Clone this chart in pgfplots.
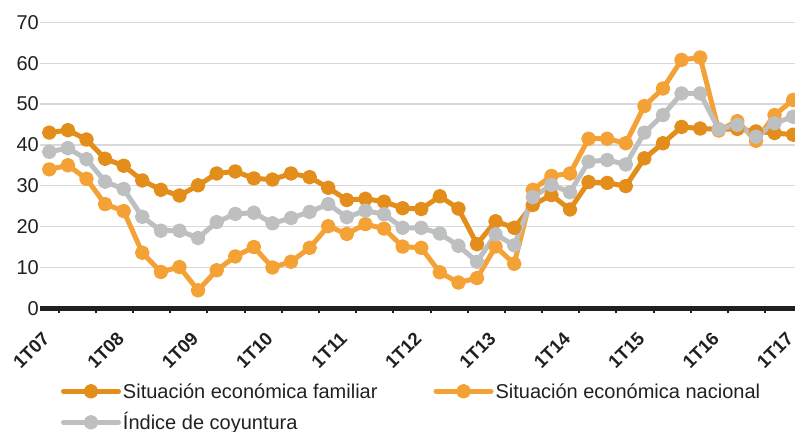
\documentclass[border=0pt]{standalone}
\usepackage{fontspec}
\setmainfont{Liberation Sans}
\usepackage{pgfplots}
\usepackage{pgfplotstable}
\pgfplotsset{compat=1.18}
\definecolor{Familiar}{HTML}{E38D1B}
\definecolor{Nacional}{HTML}{F4A236}
\definecolor{Indice}{HTML}{BEBFC1}
\definecolor{GridGray}{HTML}{D9D9D9}
\definecolor{Ink}{HTML}{231F20}

% quarter index, familiar, nacional, indice de coyuntura
\pgfplotstableread{
i  fam   nac   ind
0  43.0  34.0  38.3
1  43.6  35.0  39.2
2  41.3  31.7  36.5
3  36.6  25.5  31.0
4  34.9  23.8  29.2
5  31.3  13.6  22.4
6  29.0   8.9  19.0
7  27.6  10.1  19.0
8  30.1   4.4  17.2
9  33.0   9.3  21.1
10 33.5  12.7  23.1
11 31.8  15.0  23.4
12 31.5  10.0  20.8
13 33.0  11.4  22.1
14 32.1  14.8  23.6
15 29.5  20.1  25.5
16 26.5  18.2  22.3
17 26.8  20.6  23.9
18 26.1  19.5  23.0
19 24.5  15.1  19.7
20 24.3  14.8  19.7
21 27.4   8.8  18.3
22 24.4   6.3  15.3
23 15.7   7.4  11.4
24 21.3  15.1  18.1
25 19.7  10.9  15.4
26 25.3  29.0  27.2
27 27.7  32.4  30.2
28 24.2  33.0  28.4
29 30.9  41.5  35.9
30 30.7  41.5  36.3
31 29.9  40.4  35.2
32 36.7  49.5  43.0
33 40.4  53.8  47.3
34 44.4  60.8  52.6
35 44.0  61.4  52.6
36 43.8  43.5  43.8
37 43.9  45.8  44.9
38 43.3  41.0  42.0
39 42.9  47.3  45.3
40 42.5  51.0  46.9
}\datatable

\begin{document}
\begin{tikzpicture}
\begin{axis}[
  at={(40bp,123.7bp)}, anchor=south west,
  scale only axis, width=755bp, height=286bp,
  xmin=-0.5, xmax=40.1, ymin=0, ymax=70,
  axis x line*=bottom, axis y line*=left,
  x axis line style={-, line width=5.5bp, color=Ink},
  y axis line style={draw=none},
  ytick={0,10,...,70},
  ytick style={draw=none},
  ymajorgrids, grid style={color=GridGray, line width=1.3bp},
  xtick={0,4,...,40},
  xticklabels={1T07,1T08,1T09,1T10,1T11,1T12,1T13,1T14,1T15,1T16,1T17},
  major tick length=0pt,
  extra x ticks={0.5,2.5,...,39.5},
  extra x tick labels={},
  extra x tick style={major tick length=5bp, tick align=outside,
    tick style={line width=2bp, color=Ink}, grid=none},
  /pgf/number format/assume math mode=true,
  yticklabel style={font=\fontsize{20bp}{24bp}\selectfont, text=Ink,
    anchor=east, inner sep=0pt, xshift=-1bp},
  xticklabel style={font=\bfseries\fontsize{18.5bp}{22bp}\selectfont, text=Ink,
    xshift=-3bp, yshift=-27bp, rotate=45, anchor=east, inner sep=0pt},
  every axis plot/.append style={line width=5bp, line join=round,
    mark=*, mark size=4.8bp},
  legend columns=2,
  legend cell align=left,
  legend style={at={(0.0278,-0.2483)}, anchor=north west, draw=none, fill=none,
    inner sep=0pt, outer sep=0pt, row sep=7bp,
    font=\fontsize{20bp}{24bp}\selectfont, text=Ink,
    nodes={inner sep=2bp, text height=17bp, text depth=3bp},
    /tikz/every even column/.append style={column sep=54bp}},
  legend image code/.code={
    \draw[mark repeat=2, mark phase=2, line cap=round, #1]
      plot coordinates {(0bp,0bp) (27.5bp,0bp) (55bp,0bp)};},
]
\addplot[color=Familiar, mark options={fill=Familiar, draw=Familiar}] table[x=i, y=fam] {\datatable};
\addplot[color=Nacional, mark options={fill=Nacional, draw=Nacional}] table[x=i, y=nac] {\datatable};
\addplot[color=Indice, mark options={fill=Indice, draw=Indice}] table[x=i, y=ind] {\datatable};
\legend{Situación económica familiar, Situación económica nacional, Índice de coyuntura}
\end{axis}
\pgfresetboundingbox
\path[use as bounding box] (0,0) rectangle (795bp,432bp);
\end{tikzpicture}
\end{document}
